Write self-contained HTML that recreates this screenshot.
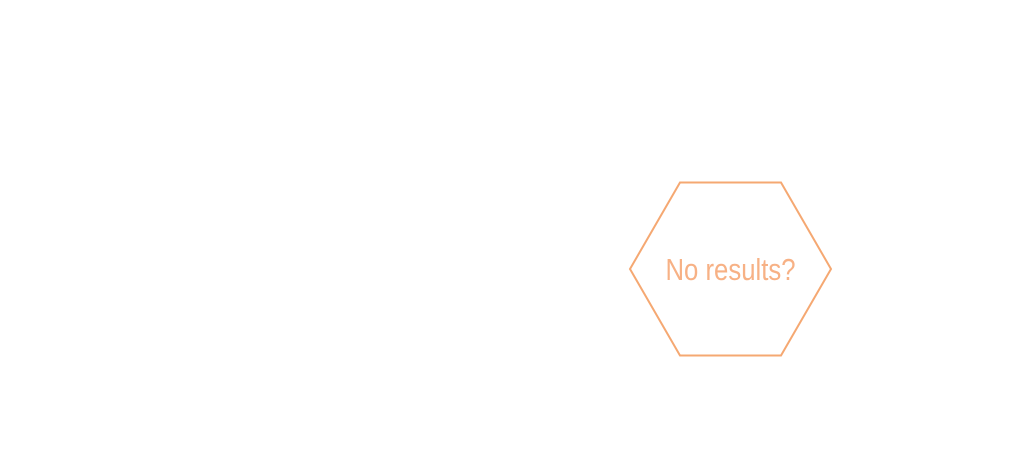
<!DOCTYPE html>
<html><head><meta charset="utf-8"><style>
html,body{margin:0;padding:0;background:#fff;width:1023px;height:461px;overflow:hidden}
</style></head><body>
<svg width="1023" height="461" xmlns="http://www.w3.org/2000/svg">
<polygon points="680,182.5 781,182.5 831,269 781,355.5 680,355.5 630,269" fill="none" stroke="#f5a872" stroke-width="2"/>
<text x="730.5" y="280" text-anchor="middle" font-family="Liberation Sans, sans-serif" font-size="31" fill="#f7b185" textLength="130" lengthAdjust="spacingAndGlyphs">No results?</text>
</svg>
</body></html>
